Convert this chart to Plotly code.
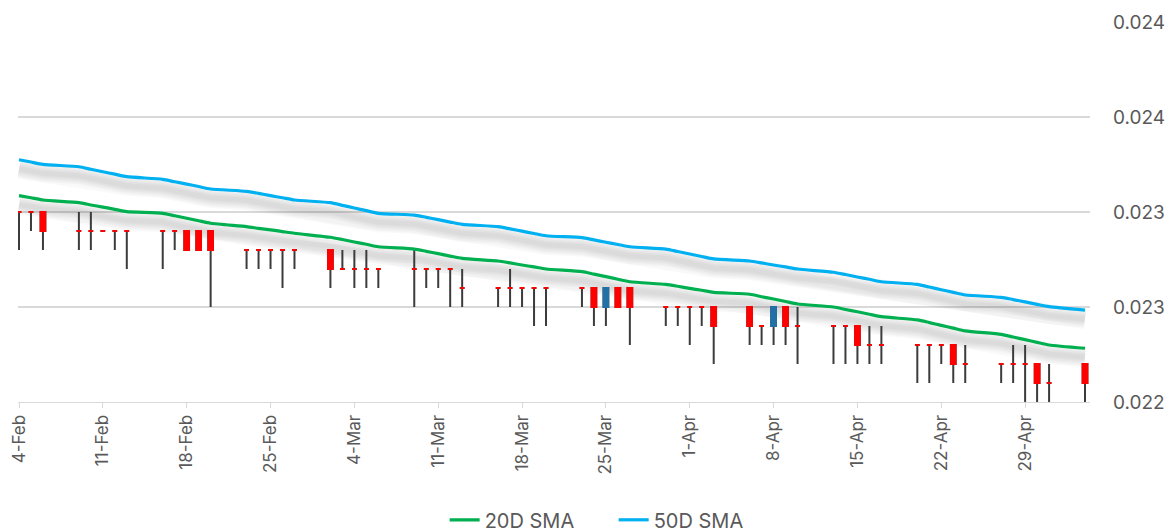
import plotly.graph_objects as go

# ---------------- data ----------------
dates = [
    "2015-02-04", "2015-02-05", "2015-02-06",
    "2015-02-09", "2015-02-10", "2015-02-11", "2015-02-12", "2015-02-13",
    "2015-02-16", "2015-02-17", "2015-02-18", "2015-02-19", "2015-02-20",
    "2015-02-23", "2015-02-24", "2015-02-25", "2015-02-26", "2015-02-27",
    "2015-03-02", "2015-03-03", "2015-03-04", "2015-03-05", "2015-03-06",
    "2015-03-09", "2015-03-10", "2015-03-11", "2015-03-12", "2015-03-13",
    "2015-03-16", "2015-03-17", "2015-03-18", "2015-03-19", "2015-03-20",
    "2015-03-23", "2015-03-24", "2015-03-25", "2015-03-26", "2015-03-27",
    "2015-03-30", "2015-03-31", "2015-04-01", "2015-04-02", "2015-04-03",
    "2015-04-06", "2015-04-07", "2015-04-08", "2015-04-09", "2015-04-10",
    "2015-04-13", "2015-04-14", "2015-04-15", "2015-04-16", "2015-04-17",
    "2015-04-20", "2015-04-21", "2015-04-22", "2015-04-23", "2015-04-24",
    "2015-04-27", "2015-04-28", "2015-04-29", "2015-04-30", "2015-05-01",
    "2015-05-04",
]

opens = [
    0.0230, 0.0230, 0.0230,
    0.0229, 0.0229, 0.0229, 0.0229, 0.0229,
    0.0229, 0.0229, 0.0229, 0.0229, 0.0229,
    0.0228, 0.0228, 0.0228, 0.0228, 0.0228,
    0.0228, 0.0227, 0.0227, 0.0227, 0.0227,
    0.0227, 0.0227, 0.0227, 0.0227, 0.0226,
    0.0226, 0.0226, 0.0226, 0.0226, 0.0226,
    0.0226, 0.0226, 0.0225, 0.0226, 0.0226,
    0.0225, 0.0225, 0.0225, 0.0225, 0.0225,
    0.0225, 0.0224, 0.0224, 0.0225, 0.0224,
    0.0224, 0.0224, 0.0224, 0.0223, 0.0223,
    0.0223, 0.0223, 0.0223, 0.0223, 0.0222,
    0.0222, 0.0222, 0.0222, 0.0222, 0.0221,
    0.0222,
]
highs = [
    0.0230, 0.0230, 0.0230,
    0.0230, 0.0230, 0.0229, 0.0229, 0.0229,
    0.0229, 0.0229, 0.0229, 0.0229, 0.0229,
    0.0228, 0.0228, 0.0228, 0.0228, 0.0228,
    0.0228, 0.0228, 0.0228, 0.0228, 0.0227,
    0.0228, 0.0227, 0.0227, 0.0227, 0.0227,
    0.0226, 0.0227, 0.0226, 0.0226, 0.0226,
    0.0226, 0.0226, 0.0226, 0.0226, 0.0226,
    0.0225, 0.0225, 0.0225, 0.0225, 0.0225,
    0.0225, 0.0224, 0.0225, 0.0225, 0.0225,
    0.0224, 0.0224, 0.0224, 0.0224, 0.0224,
    0.0223, 0.0223, 0.0223, 0.0223, 0.0223,
    0.0222, 0.0223, 0.0223, 0.0222, 0.0222,
    0.0222,
]
lows = [
    0.0228, 0.0229, 0.0228,
    0.0228, 0.0228, 0.0229, 0.0228, 0.0227,
    0.0227, 0.0228, 0.0228, 0.0228, 0.0225,
    0.0227, 0.0227, 0.0227, 0.0226, 0.0227,
    0.0226, 0.0227, 0.0226, 0.0226, 0.0226,
    0.0225, 0.0226, 0.0226, 0.0225, 0.0225,
    0.0225, 0.0225, 0.0225, 0.0224, 0.0224,
    0.0225, 0.0224, 0.0224, 0.0225, 0.0223,
    0.0224, 0.0224, 0.0223, 0.0224, 0.0222,
    0.0223, 0.0223, 0.0223, 0.0223, 0.0222,
    0.0222, 0.0222, 0.0222, 0.0222, 0.0222,
    0.0221, 0.0221, 0.0222, 0.0221, 0.0221,
    0.0221, 0.0221, 0.0220, 0.0220, 0.0220,
    0.0220,
]
closes = [
    0.0230, 0.0230, 0.0229,
    0.0229, 0.0229, 0.0229, 0.0229, 0.0229,
    0.0229, 0.0229, 0.0228, 0.0228, 0.0228,
    0.0228, 0.0228, 0.0228, 0.0228, 0.0228,
    0.0227, 0.0227, 0.0227, 0.0227, 0.0227,
    0.0227, 0.0227, 0.0227, 0.0227, 0.0226,
    0.0226, 0.0226, 0.0226, 0.0226, 0.0226,
    0.0226, 0.0225, 0.0226, 0.0225, 0.0225,
    0.0225, 0.0225, 0.0225, 0.0225, 0.0224,
    0.0224, 0.0224, 0.0225, 0.0224, 0.0224,
    0.0224, 0.0224, 0.0223, 0.0223, 0.0223,
    0.0223, 0.0223, 0.0223, 0.0222, 0.0222,
    0.0222, 0.0222, 0.0222, 0.0221, 0.0221,
    0.0221,
]

sma20 = [
    0.023086, 0.023075, 0.023063,
    0.023049, 0.023037, 0.023026, 0.023014, 0.023002,
    0.022993, 0.022980, 0.022967, 0.022954, 0.022941,
    0.022923, 0.022914, 0.022906, 0.022897, 0.022888,
    0.022867, 0.022855, 0.022842, 0.022830, 0.022817,
    0.022805, 0.022793, 0.022781, 0.022768, 0.022756,
    0.022742, 0.022732, 0.022721, 0.022711, 0.022700,
    0.022686, 0.022673, 0.022660, 0.022646, 0.022633,
    0.022619, 0.022609, 0.022598, 0.022588, 0.022577,
    0.022567, 0.022554, 0.022542, 0.022529, 0.022516,
    0.022500, 0.022487, 0.022475, 0.022462, 0.022449,
    0.022432, 0.022418, 0.022403, 0.022389, 0.022374,
    0.022356, 0.022342, 0.022328, 0.022314, 0.022300,
    0.022283,
]
sma50 = [
    0.023275, 0.023263, 0.023251,
    0.023238, 0.023225, 0.023212, 0.023199, 0.023186,
    0.023172, 0.023159, 0.023147, 0.023134, 0.023121,
    0.023109, 0.023098, 0.023086, 0.023075, 0.023063,
    0.023049, 0.023035, 0.023021, 0.023007, 0.022993,
    0.022984, 0.022972, 0.022960, 0.022947, 0.022935,
    0.022923, 0.022911, 0.022899, 0.022887, 0.022875,
    0.022865, 0.022853, 0.022841, 0.022829, 0.022817,
    0.022805, 0.022792, 0.022779, 0.022766, 0.022753,
    0.022742, 0.022732, 0.022721, 0.022711, 0.022700,
    0.022683, 0.022671, 0.022658, 0.022646, 0.022633,
    0.022619, 0.022605, 0.022591, 0.022577, 0.022563,
    0.022551, 0.022539, 0.022527, 0.022514, 0.022502,
    0.022484,
]

ytick_vals = [0.0220, 0.0225, 0.0230, 0.0235, 0.0240]
ytick_text = ["0.022", "0.023", "0.023", "0.024", "0.024"]

# ---------------- style ----------------
FONT = "Inter, Roboto, Arial, sans-serif"
TXT = "#595959"
GRID = "#d9d9d9"
WICK = "#3c3c3c"
RED = "#ff0000"
BLUE_BODY = "#2270a8"
GREEN = "#00b050"
CYAN = "#00b0f0"

Y_RANGE = [0.0220, 0.0240]
PLOT_H = 380
SHADOW_PX = 9
shift = SHADOW_PX * (Y_RANGE[1] - Y_RANGE[0]) / PLOT_H

fig = go.Figure()

# soft shadows under the SMA lines (base axis has a shifted range => drawn lower)
for w in (20, 17, 14, 11, 8, 5):
    for series in (sma20, sma50):
        fig.add_trace(go.Scatter(
            x=dates, y=series, mode="lines",
            line=dict(color="rgba(0,0,0,0.022)", width=w),
            yaxis="y", showlegend=False, hoverinfo="skip"))

# wicks
fig.add_trace(go.Candlestick(
    x=dates, open=opens, high=highs, low=lows, close=closes,
    increasing=dict(line=dict(color=WICK, width=2), fillcolor=WICK),
    decreasing=dict(line=dict(color=WICK, width=2), fillcolor=WICK),
    yaxis="y2", showlegend=False, hoverinfo="skip"))

# bodies: rising (close > open) blue, others red
for rising, col in ((True, BLUE_BODY), (False, RED)):
    idx = [i for i in range(len(dates)) if (closes[i] > opens[i]) == rising]
    bx = [dates[i] for i in idx]
    bo = [opens[i] for i in idx]
    bc = [closes[i] for i in idx]
    bh = [max(opens[i], closes[i]) for i in idx]
    bl = [min(opens[i], closes[i]) for i in idx]
    fig.add_trace(go.Candlestick(
        x=bx, open=bo, high=bh, low=bl, close=bc,
        increasing=dict(line=dict(color=col, width=2), fillcolor=col),
        decreasing=dict(line=dict(color=col, width=2), fillcolor=col),
        yaxis="y2", showlegend=False, hoverinfo="skip"))

fig.add_trace(go.Scatter(
    x=dates, y=sma20, mode="lines", name="20D SMA",
    line=dict(color=GREEN, width=3.2, shape="spline", smoothing=0.6), yaxis="y2"))
fig.add_trace(go.Scatter(
    x=dates, y=sma50, mode="lines", name="50D SMA",
    line=dict(color=CYAN, width=3.2, shape="spline", smoothing=0.6), yaxis="y2"))

fig.update_layout(
    width=1169, height=532,
    margin=dict(l=18, r=79, t=22, b=130, autoexpand=False),
    paper_bgcolor="white", plot_bgcolor="white",
    font=dict(family=FONT, color=TXT),
    boxgap=0.44,
    xaxis=dict(
        type="date",
        range=["2015-02-03 22:00", "2015-05-04 10:00"],
        tick0="2015-02-04", dtick=7 * 86400000,
        tickformat="%-d-%b", tickangle=-90,
        tickfont=dict(size=17, color=TXT, family=FONT),
        ticks="outside", ticklen=5, tickcolor=GRID,
        showline=True, linecolor=GRID, linewidth=1,
        showgrid=False, zeroline=False,
        rangeslider=dict(visible=False),
    ),
    yaxis=dict(
        range=[Y_RANGE[0] + shift, Y_RANGE[1] + shift],
        visible=False, showgrid=False, zeroline=False,
    ),
    yaxis2=dict(
        overlaying="y", side="right",
        range=Y_RANGE,
        tickvals=ytick_vals, ticktext=ytick_text,
        tickfont=dict(size=19, color=TXT, family=FONT),
        ticklabelstandoff=22,
        showgrid=True, gridcolor=GRID, gridwidth=1.5,
        zeroline=False, showline=False, ticks="",
    ),
    legend=dict(
        orientation="h", x=0.398, xanchor="left", y=-0.31, yanchor="middle",
        font=dict(size=20, color=TXT, family=FONT),
        entrywidth=124,
        bgcolor="rgba(0,0,0,0)",
    ),
    shapes=[dict(type="line", xref="paper", yref="paper", x0=0, x1=1, y0=1, y1=1,
                 line=dict(color="white", width=3), layer="above")],
)

fig.write_html("out.html", config={"displayModeBar": False},
               post_script="document.body.style.margin='0px';")
